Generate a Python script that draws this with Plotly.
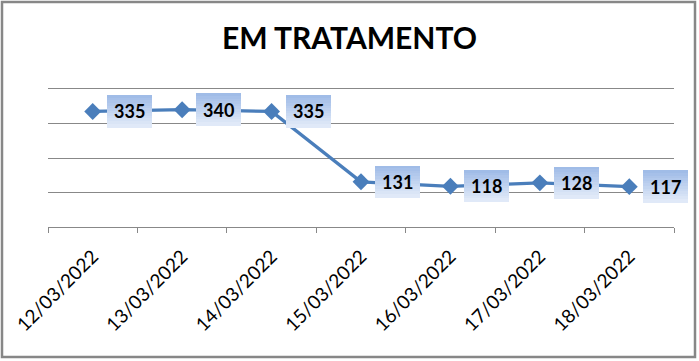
import plotly.graph_objects as go

categories = ["12/03/2022", "13/03/2022", "14/03/2022", "15/03/2022",
              "16/03/2022", "17/03/2022", "18/03/2022"]
values = [335, 340, 335, 131, 118, 128, 117]
title_text = "EM TRATAMENTO"

LINE = "#4a7ebb"
GRID = "#888888"
FONT = "Lato"

fig = go.Figure()
fig.add_trace(go.Scatter(
    x=categories, y=values, mode="lines+markers",
    line=dict(color=LINE, width=3.3),
    marker=dict(symbol="diamond", size=13, color=LINE),
    hoverinfo="skip", showlegend=False,
))

# data label boxes with a vertical gradient made of strips
W, H, N = 45, 31, 12
top = (160, 188, 231)
bot = (224, 233, 248)
strip_h = H / N
annotations = []
for c, v in zip(categories, values):
    for k in range(N):
        t = k / (N - 1)
        col = tuple(round(top[j] + (bot[j] - top[j]) * t) for j in range(3))
        annotations.append(dict(
            x=c, y=v, xref="x", yref="y", text=" ", showarrow=False,
            width=W, height=strip_h + 1, borderpad=0, borderwidth=0,
            bgcolor="rgb(%d,%d,%d)" % col, font=dict(size=1),
            xshift=14 + W / 2, yshift=H / 2 - strip_h * (k + 0.5),
        ))
    annotations.append(dict(
        x=c, y=v, xref="x", yref="y", text="<b>%d</b>" % v, showarrow=False,
        font=dict(family=FONT, size=18, color="#000000"),
        xshift=14 + W / 2, yshift=0,
    ))

PLOT_H = 138.0
fig.update_layout(
    width=699, height=361,
    margin=dict(l=48, r=25, t=89, b=134, autoexpand=False),
    paper_bgcolor="white", plot_bgcolor="white",
    title=dict(text="<b>%s</b>" % title_text, x=0.5, xanchor="center",
               y=1 - 38 / 361, yanchor="middle",
               font=dict(family=FONT, size=30, color="#000000")),
    xaxis=dict(type="category", range=[-0.5, 6.5], showgrid=False, automargin=False,
               showline=True, linecolor=GRID, linewidth=1, mirror=True,
               ticks="outside", tickson="boundaries", ticklen=5, tickcolor=GRID,
               tickangle=-45, ticklabelstandoff=10,
               tickfont=dict(family=FONT, size=19, color="#000000")),
    yaxis=dict(range=[0, 400], tickvals=[0, 100, 200, 300, 400], showgrid=True,
               gridcolor=GRID, gridwidth=1, automargin=False,
               showticklabels=False, zeroline=False, showline=False, ticks=""),
    annotations=annotations,
    shapes=[dict(type="rect", xref="paper", yref="paper",
                 x0=(2 - 48) / 626, x1=(695 - 48) / 626,
                 y0=(227 - 357) / PLOT_H, y1=(227 - 2) / PLOT_H,
                 line=dict(color="#878787", width=2.5), fillcolor="rgba(0,0,0,0)",
                 layer="above")],
)

fig.write_html("out.html", config={"displayModeBar": False},
               post_script="document.body.style.margin='0px';")
